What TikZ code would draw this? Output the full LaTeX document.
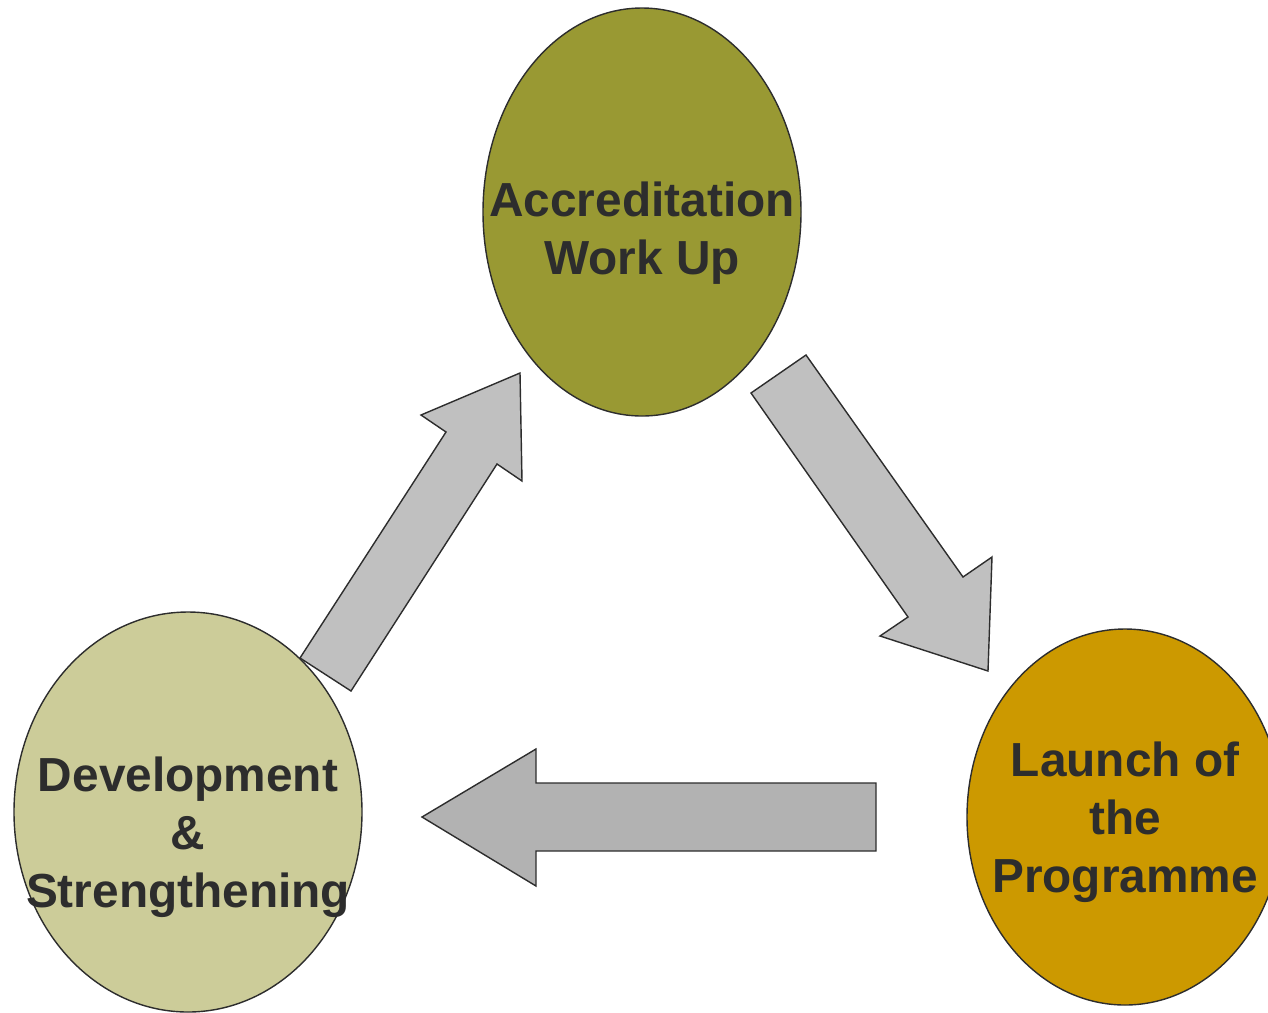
\documentclass[tikz,border=0pt]{standalone}
\usepackage{fontspec}
\setmainfont{Liberation Sans}
\usetikzlibrary{shapes.geometric}
\definecolor{olive}{HTML}{999933}
\definecolor{sage}{HTML}{CCCC99}
\definecolor{mustard}{HTML}{CC9900}
\definecolor{arrowgray}{HTML}{C0C0C0}
\definecolor{arrowdark}{HTML}{B2B2B2}
\definecolor{inkgray}{HTML}{2D2D2D}
\begin{document}
\begin{tikzpicture}[
        x=0.02cm, y=-0.02cm,
        phase/.style={draw=inkgray, line width=0.8pt, ellipse, inner sep=0pt},
        caption/.style={align=center, text=inkgray, font=\bfseries\fontsize{27.2}{33}\selectfont},
        blockarrow/.style={draw=inkgray, line width=0.8pt, line join=miter}
    ]
        \useasboundingbox (0,0) rectangle (1268,1012);
        \clip (0,0) rectangle (1268,1012);

        % the three phases of the cycle
        \foreach \name/\pos/\w/\h/\col in {
            accred/{(642,212)}/318/408/olive,
            develop/{(188,812)}/348/400/sage,
            launch/{(1125,817)}/316/376/mustard} {
            \node[phase, fill=\col, minimum width=\w*0.02cm, minimum height=\h*0.02cm] (\name) at \pos {};
        }

        \node[caption] (accred-text) at (642,233) {Accreditation\\Work Up};
        \node[caption] (develop-text) at (188,837) {Development\\\&\\Strengthening};
        \node[caption] (launch-text) at (1125,822) {Launch of\\the\\Programme};

        % block arrows between the phases
        \draw[blockarrow, fill=arrowgray] (751,393) -- (806,355) -- (963,577) -- (992,557)
            -- (988,671) -- (880,636) -- (908,617) -- cycle;
        \draw[blockarrow, fill=arrowdark] (876,783) -- (876,851) -- (536,851) -- (536,886)
            -- (422,817) -- (536,749) -- (536,783) -- cycle;
        \draw[blockarrow, fill=arrowgray] (300,658) -- (446,432) -- (421,415) -- (520,373)
            -- (522,481) -- (497,464) -- (351,691) -- cycle;
    \end{tikzpicture}
\end{document}
